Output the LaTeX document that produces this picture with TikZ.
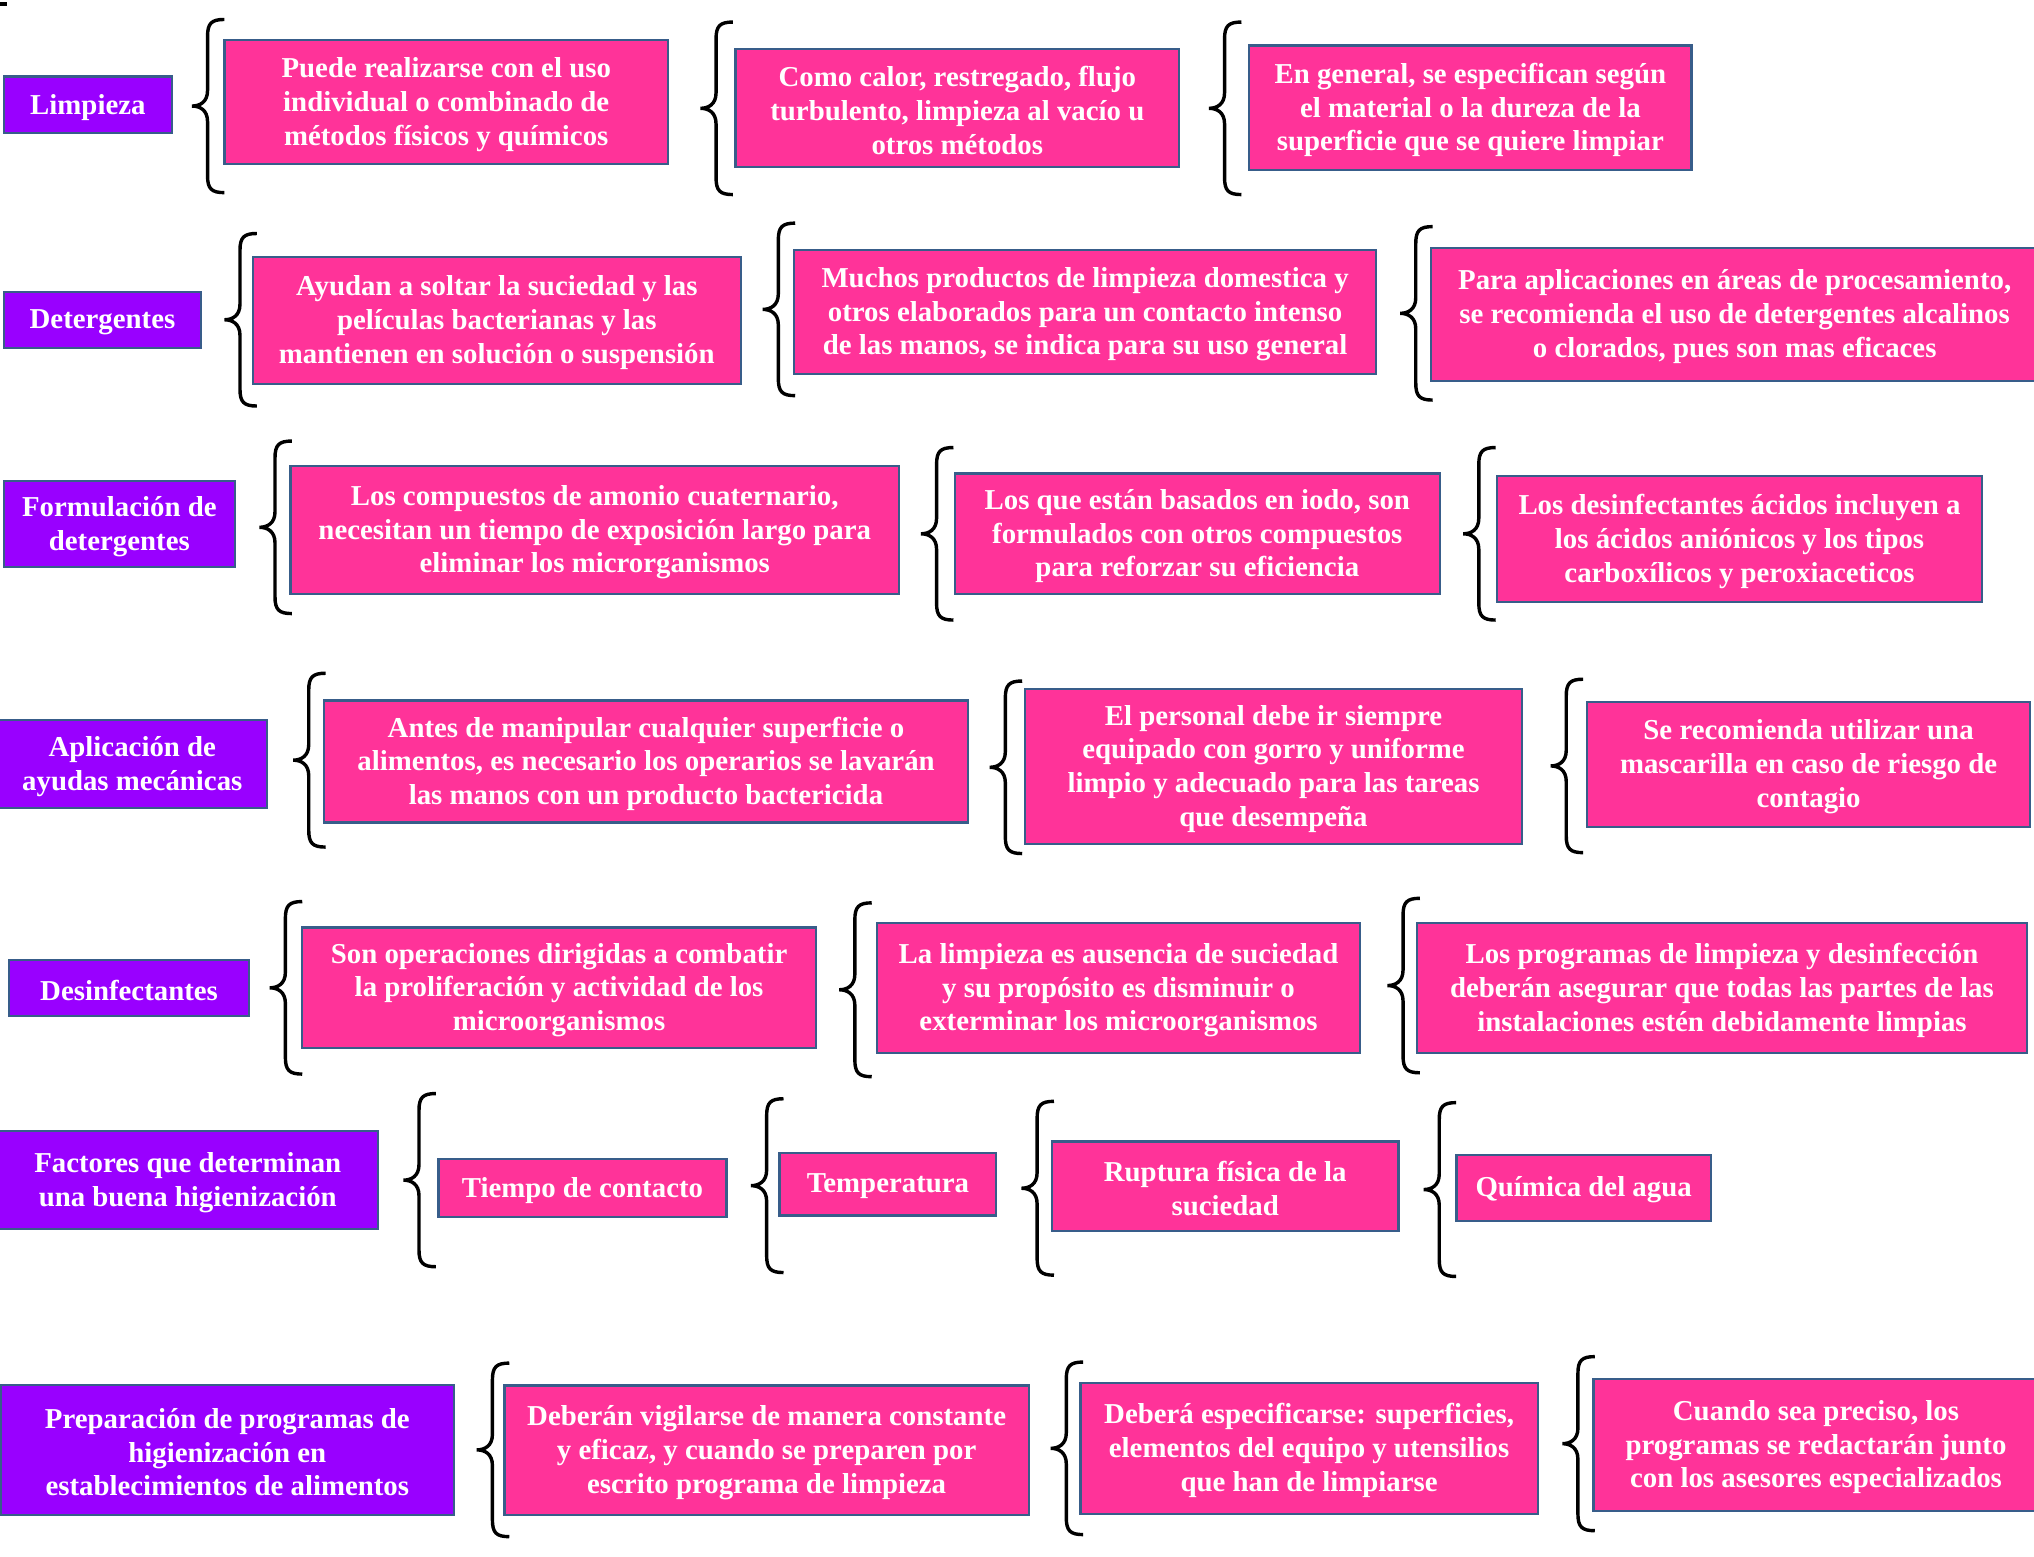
\documentclass[tikz,border=0pt]{standalone}
\usepackage{fontspec}
\setmainfont{Liberation Serif}
\definecolor{pk}{RGB}{255,51,153}
\definecolor{pu}{RGB}{153,0,255}
\definecolor{bd}{RGB}{56,93,138}
\tikzset{
  box/.style={draw=bd, line width=1pt, inner sep=0pt},
  pkbox/.style={box, fill=pk},
  pubox/.style={box, fill=pu},
  txt/.style={text=white, align=center, inner sep=0pt,
    font=\bfseries\fontsize{12.65}{14.8}\selectfont},
  brc/.style={draw=black, line width=1.5pt}
}
% name, x1, y1, x2, y2, style, text
\newcommand\bx[7]{\node[#6, minimum width={0.02cm*(#4-#2)}, minimum height={0.02cm*(#5-#3)}] (#1) at ({(#2+#4)/2},{(#3+#5)/2}) {};
  \node[txt] (#1t) at ([yshift=-0.035cm]#1.center) {#7};}
% name, xtip, ytop, ybottom
\newcommand\mybr[4]{%
  \coordinate (#1) at (#2,{(#3+#4)/2});
  \path[brc] ({#2+25},#3) .. controls ({#2+15},#3) and ({#2+12},{#3+3}) .. ({#2+12},{#3+13})
    -- ({#2+12},{(#3+#4)/2-12}) .. controls ({#2+12},{(#3+#4)/2-3}) and ({#2+6},{(#3+#4)/2}) .. (#1)
    .. controls ({#2+6},{(#3+#4)/2}) and ({#2+12},{(#3+#4)/2+3}) .. ({#2+12},{(#3+#4)/2+12})
    -- ({#2+12},{#4-13}) .. controls ({#2+12},{#4-3}) and ({#2+15},#4) .. ({#2+25},#4);}
\begin{document}
\begin{tikzpicture}[x=0.02cm,y=-0.02cm]
\useasboundingbox (0,0) rectangle (1568,1200);
\fill[white] (0,0) rectangle (1568,1200);
\fill (0,1.5) rectangle (5.4,4.6);
% Row 1
\bx{p1}{3}{59}{132.5}{102.8}{pubox}{Limpieza}
\mybr{b11}{148}{15}{148.5}
\bx{a11}{173}{30.8}{515}{126.7}{pkbox}{Puede realizarse con el uso\\individual o combinado de\\métodos físicos y químicos}
\mybr{b12}{540}{17}{150}
\bx{a12}{567}{38}{909}{129}{pkbox}{Como calor, restregado, flujo\\turbulento, limpieza al vacío u\\otros métodos}
\mybr{b13}{932}{17}{150}
\bx{a13}{963}{35}{1304}{131}{pkbox}{En general, se especifican según\\el material o la dureza de la\\superficie que se quiere limpiar}
% Row 2
\bx{p2}{3}{225}{155}{268}{pubox}{Detergentes}
\mybr{b21}{173}{180}{313}
\bx{a21}{195}{198}{571}{296}{pkbox}{Ayudan a soltar la suciedad y las\\películas bacterianas y las\\mantienen en solución o suspensión}
\mybr{b22}{588}{172}{305}
\bx{a22}{612}{192.7}{1061}{288.3}{pkbox}{Muchos productos de limpieza domestica y\\otros elaborados para un contacto intenso\\de las manos, se indica para su uso general}
\mybr{b23}{1079.4}{174.7}{308.4}
\bx{a23}{1103}{191}{1575}{293.5}{pkbox}{\hspace*{-2pt}Para aplicaciones en áreas de procesamiento,\\\hspace*{-2pt}se recomienda el uso de detergentes alcalinos\\\hspace*{-2pt}o clorados, pues son mas eficaces}
% Row 3
\bx{p3}{3}{371}{181}{437}{pubox}{Formulación de\\detergentes}
\mybr{b31}{200}{340}{473}
\bx{a31}{224}{359}{693}{458}{pkbox}{Los compuestos de amonio cuaternario,\\necesitan un tiempo de exposición largo para\\eliminar los microrganismos}
\mybr{b32}{710}{345}{478}
\bx{a32}{736}{365}{1110}{458}{pkbox}{Los que están basados en iodo, son\\formulados con otros compuestos\\para reforzar su eficiencia}
\mybr{b33}{1128}{345}{478}
\bx{a33}{1154}{367}{1528}{464}{pkbox}{Los desinfectantes ácidos incluyen a\\los ácidos aniónicos y los tipos\\carboxílicos y peroxiaceticos}
% Row 4
\bx{p4}{-2}{555}{206}{623}{pubox}{Aplicación de\\ayudas mecánicas}
\mybr{b41}{226}{519}{653}
\bx{a41}{250}{540}{746}{634}{pkbox}{Antes de manipular cualquier superficie o\\alimentos, es necesario los operarios se lavarán\\las manos con un producto bactericida}
\mybr{b42}{763}{525}{658}
\bx{a42}{790}{531}{1173.5}{650.6}{pkbox}{El personal debe ir siempre\\equipado con gorro y uniforme\\limpio y adecuado para las tareas\\que desempeña}
\mybr{b43}{1195.4}{523.6}{657.3}
\bx{a43}{1223.4}{541}{1565}{637.3}{pkbox}{Se recomienda utilizar una\\mascarilla en caso de riesgo de\\contagio}
% Row 5
\bx{p5}{7}{740}{192}{783}{pubox}{Desinfectantes}
\mybr{b51}{208}{695}{828}
\bx{a51}{233}{715}{629}{808}{pkbox}{Son operaciones dirigidas a combatir\\la proliferación y actividad de los\\microorganismos}
\mybr{b52}{647}{696}{830}
\bx{a52}{676}{711.7}{1048.6}{811.5}{pkbox}{La limpieza es ausencia de suciedad\\y su propósito es disminuir o\\exterminar los microorganismos}
\mybr{b53}{1069.6}{692.5}{827}
\bx{a53}{1092.4}{711.7}{1562.5}{811.5}{pkbox}{Los programas de limpieza y desinfección\\deberán asegurar que todas las partes de las\\instalaciones estén debidamente limpias}
% Row 6
\bx{p6}{-2}{872}{291.5}{947.5}{pubox}{Factores que determinan\\una buena higienización}
\mybr{b61}{311}{843}{976.5}
\bx{a61}{338}{893.7}{560}{938}{pkbox}{Tiempo de contacto}
\mybr{b62}{579}{847}{981}
\bx{a62}{601}{889}{768}{937}{pkbox}{Temperatura}
\mybr{b63}{787.5}{849}{983}
\bx{a63}{811}{880}{1078}{948.7}{pkbox}{Ruptura física de la\\suciedad}
\mybr{b64}{1097.5}{850}{984}
\bx{a64}{1122.8}{890.4}{1318.8}{941}{pkbox}{Química del agua}
% Row 7
\bx{p7}{0.5}{1067.7}{350}{1168}{pubox}{Preparación de programas de\\higienización en\\establecimientos de alimentos}
\mybr{b71}{367.6}{1050.8}{1184.6}
\bx{a71}{389}{1068}{793}{1168}{pkbox}{Deberán vigilarse de manera constante\\y eficaz, y cuando se preparen por\\escrito programa de limpieza}
\mybr{b72}{810}{1050}{1183}
\bx{a72}{833}{1066}{1185.4}{1167}{pkbox}{Deberá especificarse: superficies,\\elementos del equipo y utensilios\\que han de limpiarse}
\mybr{b73}{1204.4}{1045.8}{1180}
\bx{a73}{1228.4}{1063}{1575}{1164.6}{pkbox}{\hspace*{-2pt}Cuando sea preciso, los\\\hspace*{-2pt}programas se redactarán junto\\\hspace*{-2pt}con los asesores especializados}
\end{tikzpicture}
\end{document}
